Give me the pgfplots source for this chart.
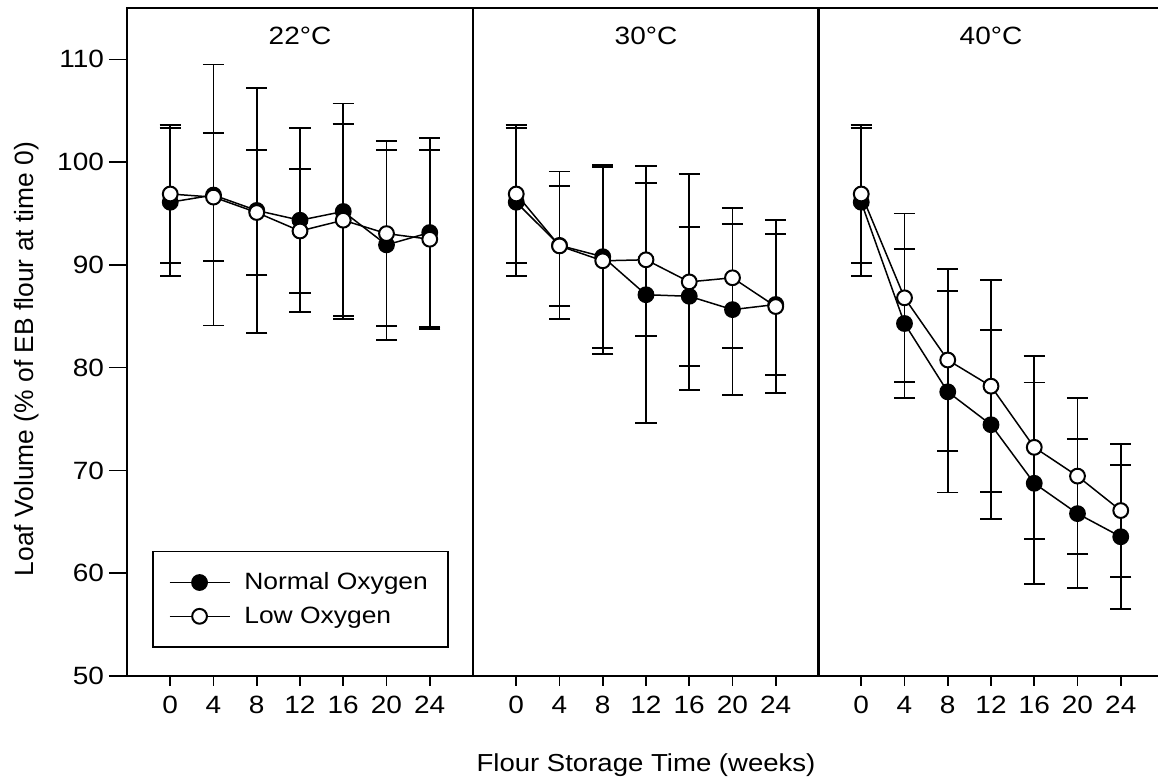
\documentclass[border=0pt]{standalone}
\usepackage{pgfplots}
\pgfplotsset{compat=1.18}
\usepackage{pgfplotstable}
\usepackage{fontspec}
\setmainfont{Liberation Sans}[FakeStretch=1.12]
\newfontfamily\ylabfont{Liberation Sans}

% 22 C
\pgfplotstableread{
x  n     ne    l     le
0  96.1  7.2   96.9  6.7
4  96.8  12.7  96.6  6.2
8  95.3  11.95 95.1  6.1
12 94.35 8.95  93.3  6.05
16 95.2  10.5  94.35 9.35
20 91.95 9.25  93.05 9.0
24 93.15 9.2   92.5  8.7
}\dataA
% 30 C
\pgfplotstableread{
x  n     ne    l     le
0  96.1  7.2   96.9  6.7
4  91.9  7.2   91.85 5.85
8  90.8  8.9   90.4  9.1
12 87.1  12.5  90.5  7.45
16 86.95 6.75  88.35 10.5
20 85.65 8.3   88.75 6.8
24 86.15 6.85  85.95 8.4
}\dataB
% 40 C
\pgfplotstableread{
x  n     ne    l     le
0  96.1  7.2   96.9  6.7
4  84.3  7.25  86.8  8.2
8  77.65 9.8   80.75 8.85
12 74.45 9.2   78.2  10.3
16 68.75 9.8   72.25 8.9
20 65.8  7.25  69.45 7.6
24 63.55 7.0   66.1  6.5
}\dataC

\pgfplotsset{
  panel/.style={
    scale only axis, width=173pt, height=334pt,
    xmin=-4, xmax=28, ymin=50, ymax=115,
    xtick={0,4,...,24}, ytick=\empty,
    xtick pos=bottom, ytick pos=left,
    tick align=outside, major tick length=5pt,
    axis line style={line width=0.9pt},
    tick style={line width=0.8pt, black},
    ticklabel style={font=\fontsize{12.5}{14}\selectfont},
    every x tick label/.append style={yshift=-1.5pt},
    /pgf/number format/assume math mode=true,
    title style={at={(0.5,1)}, anchor=center, yshift=-20pt, font=\fontsize{12.5}{15}\selectfont},
    legend image code/.code={\draw[mark repeat=2, mark phase=2] plot coordinates {(0pt,0pt) (15pt,0pt) (30pt,0pt)};},
  },
  errs/.style={
    /pgfplots/error bars/y dir=both,
    /pgfplots/error bars/y explicit,
    /pgfplots/error bars/error bar style={line width=0.9pt, black},
    /pgfplots/error bars/error mark options={rotate=90, mark size=5.3pt, line width=0.9pt, black},
  },
  nser/.style={black, line width=0.75pt, mark=*, mark size=3.7pt, mark options={fill=black, line width=1pt}, errs},
  lser/.style={black, line width=0.75pt, mark=*, mark size=3.7pt, mark options={fill=white, line width=1pt}, errs},
}

\begin{document}
\begin{tikzpicture}
\useasboundingbox (0,0) rectangle (579pt,391pt);

% y ticks of the left panel (longer ticks)
\begin{axis}[panel, at={(63.5pt,53pt)}, anchor=south west,
  xtick=\empty, ytick={50,60,...,110}, major tick length=9pt,
  every y tick label/.append style={xshift=1pt}]
\end{axis}

\begin{axis}[panel, at={(63.5pt,53pt)}, anchor=south west, title={22°C},
  legend style={at={(axis description cs:0.072,0.042)}, anchor=south west,
    draw=black, line width=0.9pt, font=\fontsize{11.8}{14}\selectfont,
    inner xsep=8pt, inner ysep=8.5pt, row sep=3pt, legend cell align=left,
    /tikz/every odd column/.append style={column sep=5pt}},
  legend columns=1]
\addplot[nser] table[x=x, y=n, y error=ne] {\dataA};
\addlegendentry{Normal Oxygen}
\addplot[lser] table[x=x, y=l, y error=le] {\dataA};
\addlegendentry{Low Oxygen}
\end{axis}

\begin{axis}[panel, at={(236.5pt,53pt)}, anchor=south west, title={30°C},
  xlabel={Flour Storage Time (weeks)},
  xlabel style={at={(axis description cs:0.5,0)}, anchor=center, yshift=-44.5pt, font=\fontsize{12.3}{15}\selectfont}]
\addplot[nser] table[x=x, y=n, y error=ne] {\dataB};
\addplot[lser] table[x=x, y=l, y error=le] {\dataB};
\end{axis}

\begin{axis}[panel, at={(409pt,53pt)}, anchor=south west, title={40°C}]
\addplot[nser] table[x=x, y=n, y error=ne] {\dataC};
\addplot[lser] table[x=x, y=l, y error=le] {\dataC};
\end{axis}

\node[rotate=90, font=\ylabfont\fontsize{13.2}{15}\selectfont] at (13.5pt,211.5pt) {Loaf Volume (\% of EB flour at time 0)};
\end{tikzpicture}
\end{document}
